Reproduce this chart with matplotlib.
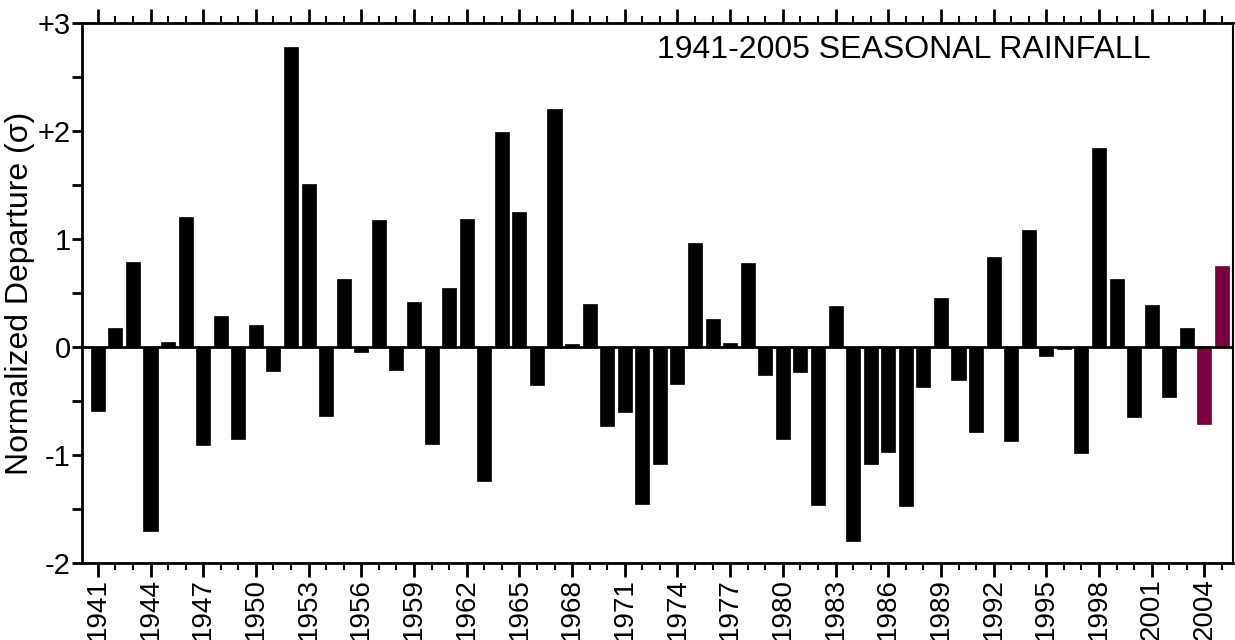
import numpy as np
import matplotlib.pyplot as plt
from matplotlib.ticker import MultipleLocator

plt.rcParams['font.family'] = ['Liberation Sans', 'DejaVu Sans']

years = list(range(1941, 2006))
departure = [
    -0.59, 0.18, 0.79, -1.70, 0.045, 1.20, -0.91, 0.29, -0.85, 0.20,
    -0.22, 2.78, 1.51, -0.64, 0.63, -0.05, 1.18, -0.21, 0.42, -0.90,
    0.55, 1.19, -1.24, 1.99, 1.25, -0.35, 2.20, 0.025, 0.40, -0.73,
    -0.60, -1.45, -1.08, -0.34, 0.96, 0.26, 0.04, 0.78, -0.26, -0.85,
    -0.23, -1.46, 0.38, -1.80, -1.08, -0.97, -1.47, -0.37, 0.45, -0.31,
    -0.79, 0.83, -0.87, 1.08, -0.08, -0.02, -0.98, 1.84, 0.63, -0.65,
    0.39, -0.46, 0.18, -0.71, 0.75,
]
highlight_years = [2004, 2005]
ytick_vals = [-2, -1, 0, 1, 2, 3]
ytick_labels = ['-2', '-1', '0', '1', '+2', '+3']
title = '1941-2005 SEASONAL RAINFALL'

colors = ['#7a0040' if y in highlight_years else 'black' for y in years]

fig = plt.figure(figsize=(12.35, 6.4), dpi=100)
ax = fig.add_axes([0.0664, 0.1203, 0.9316, 0.8437])

ax.bar(years, departure, width=0.8, color=colors, edgecolor=colors, linewidth=0.5)
ax.axhline(0, color='black', lw=2)

ax.set_xlim(1940.1, 2005.6)
ax.set_ylim(-2, 3)

ax.set_xticks(years[::3])
ax.set_xticklabels([str(y) for y in years[::3]], rotation=90, fontsize=20)
ax.xaxis.set_minor_locator(MultipleLocator(1))
ax.set_yticks(ytick_vals)
ax.set_yticklabels(ytick_labels, fontsize=21)
ax.yaxis.set_minor_locator(MultipleLocator(0.5))

ax.tick_params(axis='x', which='major', direction='out', length=10, width=2,
               top=True, pad=1)
ax.tick_params(axis='x', which='minor', direction='out', length=5, width=1.5,
               top=True)
ax.tick_params(axis='y', which='both', direction='out', length=7, width=2, pad=1)

for side in ['left', 'bottom', 'top']:
    ax.spines[side].set_linewidth(2)
ax.spines['right'].set_linewidth(1.5)

ax.set_ylabel('Normalized Departure (\u03c3)', fontsize=23, labelpad=2)
ax.text(0.5, 0.95, title, transform=ax.transAxes, fontsize=23,
        ha='left', va='center')

fig.savefig('out.png', dpi=100)
